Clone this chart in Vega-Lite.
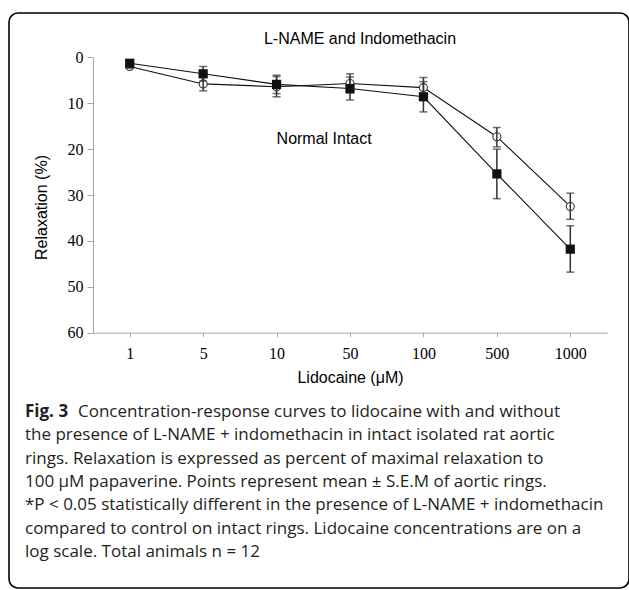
{
  "$schema": "https://vega.github.io/schema/vega-lite/v6.json",
  "width": 620,
  "height": 575,
  "autosize": {"type": "none"},
  "padding": {"left": 9, "top": 13, "right": 0, "bottom": 2},
  "background": "white",
  "config": {
    "view": {"stroke": "#000000", "strokeWidth": 1.6, "cornerRadius": 9},
    "axis": {"grid": false}
  },
  "title": {
    "text": "L-NAME and Indomethacin",
    "font": "Liberation Sans",
    "fontSize": 16,
    "fontWeight": "normal",
    "color": "#000000",
    "anchor": "middle",
    "frame": "group",
    "dx": 41,
    "offset": -34
  },
  "datasets": {
    "resp": [
      {"conc": "1", "group": "Control", "mean": 2.0, "lo": 1.6, "hi": 2.4},
      {"conc": "5", "group": "Control", "mean": 5.8, "lo": 4.3, "hi": 7.3},
      {"conc": "10", "group": "Control", "mean": 6.4, "lo": 4.2, "hi": 8.6},
      {"conc": "50", "group": "Control", "mean": 5.7, "lo": 3.6, "hi": 7.8},
      {"conc": "100", "group": "Control", "mean": 6.6, "lo": 4.4, "hi": 8.8},
      {"conc": "500", "group": "Control", "mean": 17.3, "lo": 15.3, "hi": 19.5},
      {"conc": "1000", "group": "Control", "mean": 32.5, "lo": 29.6, "hi": 35.3},
      {"conc": "1", "group": "L-NAME + Indomethacin", "mean": 1.3, "lo": 0.9, "hi": 1.7},
      {"conc": "5", "group": "L-NAME + Indomethacin", "mean": 3.6, "lo": 2.0, "hi": 5.2},
      {"conc": "10", "group": "L-NAME + Indomethacin", "mean": 5.9, "lo": 3.9, "hi": 7.9},
      {"conc": "50", "group": "L-NAME + Indomethacin", "mean": 6.8, "lo": 4.3, "hi": 9.3},
      {"conc": "100", "group": "L-NAME + Indomethacin", "mean": 8.6, "lo": 5.3, "hi": 11.9},
      {"conc": "500", "group": "L-NAME + Indomethacin", "mean": 25.4, "lo": 20.0, "hi": 30.8},
      {"conc": "1000", "group": "L-NAME + Indomethacin", "mean": 41.8, "lo": 36.7, "hi": 46.8}
    ],
    "note": [
      {"conc": "10", "value": 17.8, "label": "Normal Intact"}
    ],
    "caption": [
      {"line": 1, "part": "label", "text": "Fig. 3"},
      {"line": 1, "part": "lead", "text": "Concentration-response curves to lidocaine with and without"},
      {"line": 2, "part": "body", "text": "the presence of L-NAME + indomethacin in intact isolated rat aortic"},
      {"line": 3, "part": "body", "text": "rings. Relaxation is expressed as percent of maximal relaxation to"},
      {"line": 4, "part": "body", "text": "100 µM papaverine. Points represent mean ± S.E.M of aortic rings."},
      {"line": 5, "part": "body", "text": "*P < 0.05 statistically different in the presence of L-NAME + indomethacin"},
      {"line": 6, "part": "body", "text": "compared to control on intact rings. Lidocaine concentrations are on a"},
      {"line": 7, "part": "body", "text": "log scale. Total animals n = 12"}
    ]
  },
  "layer": [
    {
      "data": {"name": "resp"},
      "encoding": {
        "x": {
          "field": "conc",
          "type": "ordinal",
          "scale": {"type": "point", "domain": ["1", "5", "10", "50", "100", "500", "1000"], "range": [84, 598], "padding": 0.5},
          "axis": {
            "orient": "bottom",
            "offset": -255.3,
            "title": "Lidocaine (μM)",
            "titleFont": "Liberation Sans",
            "titleFontSize": 16,
            "titleFontWeight": "normal",
            "titleColor": "#000000",
            "titleBaseline": "middle",
            "titleY": 45,
            "labelFont": "Liberation Serif",
            "labelFontSize": 16,
            "labelColor": "#000000",
            "labelAngle": 0,
            "labelPadding": 9,
            "tickSize": 4,
            "tickColor": "#a6a6a6",
            "domainColor": "#a6a6a6"
          }
        }
      },
      "layer": [
        {
          "mark": {"type": "line", "color": "#111111", "strokeWidth": 1.1},
          "encoding": {
            "y": {
              "field": "mean",
              "type": "quantitative",
              "scale": {"domain": [0, 60], "range": [44.3, 319.7], "nice": false, "zero": false},
              "axis": {
                "orient": "left",
                "offset": -84,
                "values": [0, 10, 20, 30, 40, 50, 60],
                "title": "Relaxation (%)",
                "titleFont": "Liberation Sans",
                "titleFontSize": 16,
                "titleFontWeight": "normal",
                "titleColor": "#000000",
                "titleX": -52,
                "titleY": 194,
                "titleBaseline": "middle",
                "titleAlign": "center",
                "labelFont": "Liberation Serif",
                "labelFontSize": 16,
                "labelColor": "#000000",
                "labelPadding": 4,
                "tickSize": 6,
                "tickColor": "#a6a6a6",
                "domainColor": "#a6a6a6"
              }
            },
            "detail": {"field": "group", "type": "nominal"}
          }
        },
        {
          "transform": [{"filter": "datum.group == 'Control'"}],
          "mark": {"type": "point", "shape": "circle", "filled": false, "fill": "white", "fillOpacity": 1, "stroke": "#333333", "strokeWidth": 1.1, "size": 64, "opacity": 1},
          "encoding": {"y": {"field": "mean", "type": "quantitative"}}
        },
        {
          "mark": {"type": "rule", "color": "#333333", "strokeWidth": 1.5},
          "encoding": {
            "y": {"field": "lo", "type": "quantitative"},
            "y2": {"field": "hi"}
          }
        },
        {
          "mark": {"type": "tick", "color": "#333333", "thickness": 1.5, "size": 8, "orient": "horizontal"},
          "encoding": {"y": {"field": "lo", "type": "quantitative"}}
        },
        {
          "mark": {"type": "tick", "color": "#333333", "thickness": 1.5, "size": 8, "orient": "horizontal"},
          "encoding": {"y": {"field": "hi", "type": "quantitative"}}
        },
        {
          "transform": [{"filter": "datum.group != 'Control'"}],
          "mark": {"type": "point", "shape": "square", "filled": true, "color": "#111111", "size": 85, "opacity": 1},
          "encoding": {"y": {"field": "mean", "type": "quantitative"}}
        },
        {
          "data": {"name": "note"},
          "mark": {"type": "text", "align": "left", "baseline": "middle", "font": "Liberation Sans", "fontSize": 16, "color": "#000000"},
          "encoding": {
            "y": {"field": "value", "type": "quantitative"},
            "text": {"field": "label"}
          }
        }
      ]
    },
    {
      "data": {"name": "caption"},
      "encoding": {
        "x": {"datum": 0, "type": "quantitative", "scale": {"domain": [0, 1], "range": [16, 603]}, "axis": null},
        "y": {
          "field": "line",
          "type": "ordinal",
          "scale": {"type": "point", "domain": [1, 2, 3, 4, 5, 6, 7], "range": [399, 539], "padding": 0},
          "axis": null
        },
        "text": {"field": "text"}
      },
      "layer": [
        {
          "transform": [{"filter": "datum.part == 'label'"}],
          "mark": {"type": "text", "align": "left", "baseline": "middle", "font": "Open Sans", "fontSize": 17, "fontWeight": "bold", "color": "#231f20"}
        },
        {
          "transform": [{"filter": "datum.part == 'lead'"}],
          "mark": {"type": "text", "align": "left", "baseline": "middle", "font": "Open Sans", "fontSize": 17, "color": "#231f20", "dx": 53}
        },
        {
          "transform": [{"filter": "datum.part == 'body'"}],
          "mark": {"type": "text", "align": "left", "baseline": "middle", "font": "Open Sans", "fontSize": 17, "color": "#231f20"}
        }
      ]
    }
  ],
  "resolve": {"scale": {"x": "independent", "y": "independent"}}
}
